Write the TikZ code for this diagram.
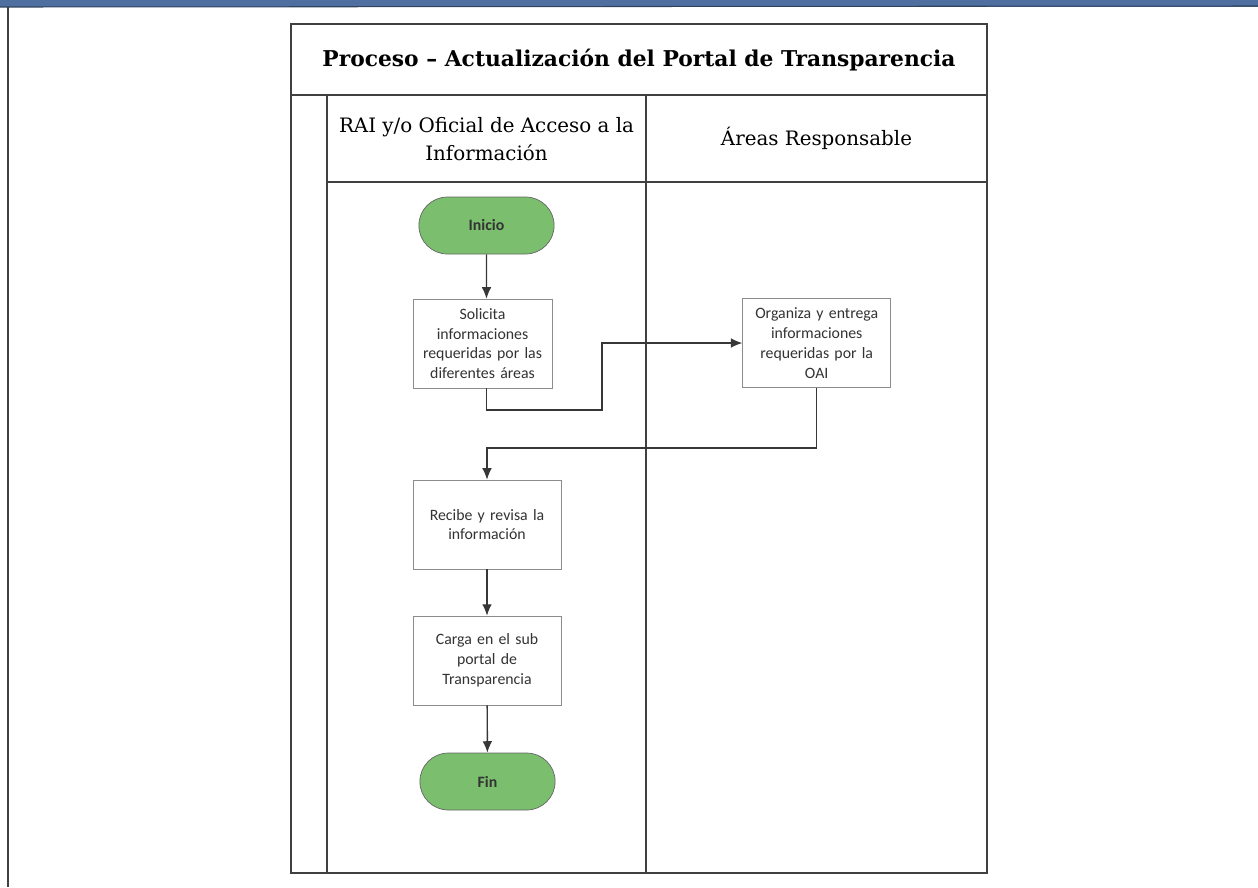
\documentclass[tikz,border=0pt]{standalone}
\usepackage{fontspec}
\setmainfont{Carlito}
\newfontfamily\slabfont{DejaVu Serif}
\usetikzlibrary{arrows,arrows.meta,shapes,positioning}
\definecolor{bandblue}{RGB}{79,111,160}
\definecolor{termgreen}{RGB}{122,190,110}
\definecolor{boxgray}{RGB}{140,140,140}
\definecolor{linegray}{RGB}{55,55,55}

\begin{document}
\begin{tikzpicture}[x=0.02cm,y=-0.02cm,>={Latex[length=6.5pt,width=5.5pt]},
  stepbox/.style={draw=boxgray,fill=white,align=center,minimum width=2.78cm,minimum height=1.78cm,
    text width=2.6cm,font=\fontsize{9}{11.3}\selectfont,text=black!80,inner sep=1pt},
  term/.style={draw=black!60,fill=termgreen,rounded rectangle,minimum width=2.94cm,minimum height=1.14cm,
    font=\bfseries\fontsize{9}{11}\selectfont,text=black!80},
  flow/.style={->,draw=linegray,line width=0.8pt},
  lane/.style={draw=black!75,line width=0.8pt}]

\useasboundingbox (0,0) rectangle (1258,887);

% outer frame
\fill [bandblue] (0,0) rectangle (1258,7);
\draw [bandblue!60!black,line width=0.6pt] (0,7) -- (1258,6);
\draw [lane] (8,7) -- (8,887);

% pool and lanes
\draw [lane] (291,24) rectangle (987,873);
\draw [lane] (291,95) -- (987,95);
\draw [lane] (327,95) -- (327,873);
\draw [lane] (646,95) -- (646,873);
\draw [lane] (327,182) -- (987,182);

\node (title) at (639,60) {\slabfont\bfseries\fontsize{12.4}{14}\selectfont Proceso – Actualización del Portal de Transparencia};
\node [align=center,font=\slabfont\fontsize{11.3}{16}\selectfont] (lane1) at (486.5,139) {RAI y/o Oficial de Acceso a la\\Información};
\node [font=\slabfont\fontsize{11.3}{16}\selectfont] (lane2) at (816.5,138) {Áreas Responsable};

% flow nodes
\node [term] (inicio) at (486.5,225.5) {Inicio};
\node [stepbox] (solicita) at (482.5,343.5) {Solicita\\informaciones\\requeridas por las\\diferentes áreas};
\node [stepbox,minimum width=2.96cm,text width=2.8cm] (organiza) at (816.7,343) {Organiza y entrega\\informaciones\\requeridas por la\\OAI};
\node [stepbox,minimum width=2.96cm,text width=2.8cm] (recibe) at (487,524.5) {Recibe y revisa la\\información};
\node [stepbox,minimum width=2.96cm,text width=2.8cm] (carga) at (487,660.5) {Carga en el sub\\portal de\\Transparencia};
\node [term] (fin) at (487.5,781.5) {Fin};

% connectors
\coordinate (j1) at (602,410);
\draw [flow] (inicio) -- (inicio |- solicita.north);
\draw [flow] (solicita.south -| inicio) |- (j1) |- (organiza.west);
\draw [flow] (organiza.south) -- ++(0,60) -| (recibe.north);
\draw [flow] (recibe) -- (carga);
\draw [flow] (carga) -- (fin);

\end{tikzpicture}
\end{document}
